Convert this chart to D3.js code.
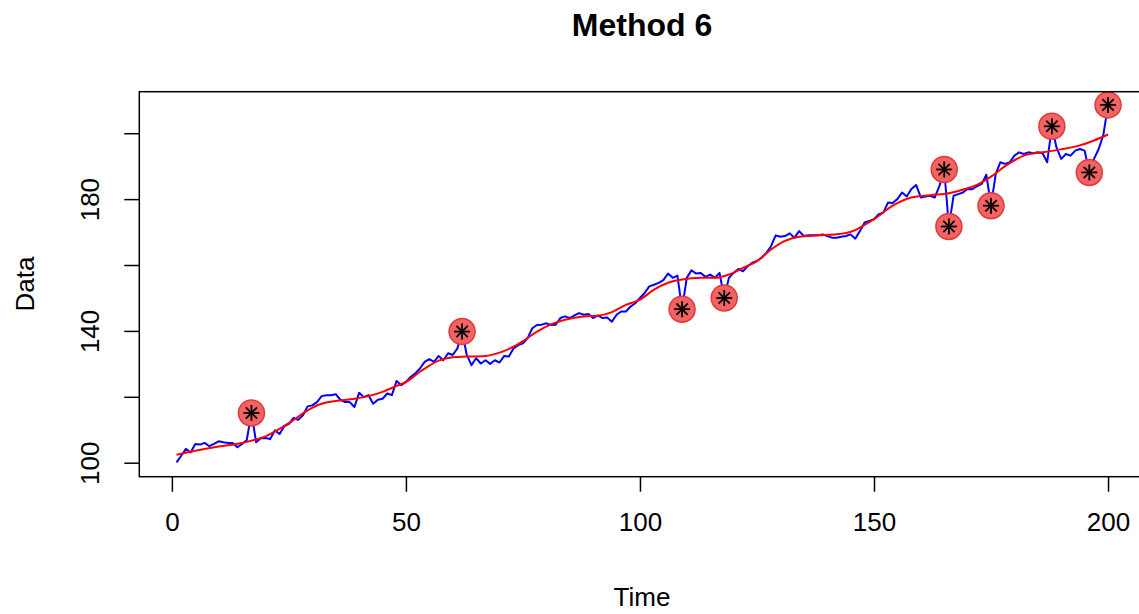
<!DOCTYPE html>
<html>
<head>
<meta charset="utf-8">
<script src="https://cdn.jsdelivr.net/npm/d3@7"></script>
<style>
  body { margin: 0; background: #fff; }
  svg { display: block; }
  text { font-family: "Liberation Sans", Arial, sans-serif; fill: #000; }
</style>
</head>
<body>
<svg id="chart" width="1139" height="614"></svg>
<script>
// ---- data ----
const dataValues = [
  100.1,102.1,104.2,103.1,105.7,105.5,106.0,105.0,105.7,106.5,
  106.2,106.0,106.0,104.7,105.7,106.9,115.1,106.2,107.4,107.5,
  107.2,109.8,108.7,111.0,111.8,113.6,113.0,114.4,117.1,117.4,
  118.4,120.2,120.5,120.5,120.8,119.1,118.4,118.4,116.9,121.2,
  119.9,120.5,117.9,119.1,119.4,121.0,120.5,124.8,123.5,124.5,
  126.0,127.1,128.6,130.6,131.4,130.6,132.4,131.1,133.2,132.7,
  134.7,139.8,132.7,129.6,131.7,130.1,131.1,130.0,131.1,130.4,
  132.4,132.2,134.7,135.7,136.2,137.8,140.8,141.8,141.9,142.3,
  141.8,141.9,143.9,144.4,143.9,144.7,145.4,144.9,145.1,143.9,
  144.7,143.9,144.1,142.8,144.9,145.9,145.9,147.4,148.4,150.0,
  151.5,153.5,154.0,154.6,155.4,157.4,156.1,156.8,146.6,156.1,
  158.4,157.4,157.6,156.4,157.1,156.1,157.6,150.0,156.1,157.6,
  158.8,158.1,159.6,160.7,161.2,162.2,163.7,165.7,169.0,168.6,
  168.8,169.6,168.3,170.3,168.8,169.0,169.0,169.0,169.3,168.8,
  168.3,168.3,168.6,168.8,169.3,168.0,170.3,172.9,173.4,173.9,
  175.4,175.9,179.0,178.8,180.0,182.0,180.8,183.1,184.3,180.5,
  180.8,181.0,180.5,184.1,189.0,171.7,181.0,181.5,182.0,183.1,
  183.0,183.9,184.6,187.4,178.0,187.6,191.2,190.7,191.2,193.2,
  194.2,193.7,194.2,193.9,194.2,193.9,191.2,202.1,195.6,192.2,
  193.7,193.2,194.7,195.2,194.7,188.1,192.2,195.2,199.5,208.6
];
const outlierTimes = [17, 62, 109, 118, 165, 166, 175, 188, 196, 200];

const trendTimes  = [1,5,10,15,20,25,29,32,35,39,42,45,48,50,53,57,60,63,67,70,73,75,78,81,84,88,91,94,97,100,103,106,109,113,116,119,122,125,128,131,134,138,142,146,148,150,154,158,162,166,170,172,175,178,182,186,190,194,197,200];
const trendValues = [102.4,103.6,104.9,106.0,108.0,112.0,115.9,117.9,118.7,119.4,120.2,121.5,123.3,124.5,127.6,131.0,132.0,132.2,132.4,133.4,135.2,136.9,139.8,142.0,143.4,144.4,144.6,145.7,147.9,149.5,152.5,154.6,155.6,156.1,156.1,157.1,159.1,161.2,164.7,167.3,168.6,169.0,169.3,170.6,172.2,173.9,178.0,180.5,181.2,181.8,183.3,184.3,186.8,190.0,193.2,194.2,195.1,196.3,197.8,199.6];

const xTicks = [0, 50, 100, 150, 200];
const yTicks = [100, 120, 140, 160, 180, 200];
const yTickLabels = [100, 140, 180];
const xLimits = [-6.96, 207.96];
const yLimits = [95.75, 212.6];

// ---- layout ----
const svg = d3.select("#chart");
const plot = { left: 139.3, right: 1145.3, top: 91.7, bottom: 476.7 };
const x = d3.scaleLinear().domain(xLimits).range([plot.left, plot.right]);
const y = d3.scaleLinear().domain(yLimits).range([plot.bottom, plot.top]);

const series = dataValues.map((v, i) => ({ t: i + 1, v }));
const trend = trendTimes.map((t, i) => ({ t, v: trendValues[i] }));
const outliers = outlierTimes.map(t => ({ t, v: dataValues[t - 1] }));

// blue data line
svg.append("path")
  .datum(series)
  .attr("fill", "none")
  .attr("stroke", "#0000ff")
  .attr("stroke-width", 2)
  .attr("stroke-linejoin", "round")
  .attr("d", d3.line().x(d => x(d.t)).y(d => y(d.v)));

// red fitted curve
svg.append("path")
  .datum(trend)
  .attr("fill", "none")
  .attr("stroke", "#ff0000")
  .attr("stroke-width", 2)
  .attr("d", d3.line().x(d => x(d.t)).y(d => y(d.v)).curve(d3.curveMonotoneX));

// outlier circles
svg.append("g").selectAll("circle")
  .data(outliers).join("circle")
  .attr("cx", d => x(d.t)).attr("cy", d => y(d.v))
  .attr("r", 13)
  .attr("fill", "#f26464")
  .attr("stroke", "#e03a3a")
  .attr("stroke-width", 1.5);

// asterisks (pch 8)
const star = svg.append("g").attr("stroke", "#000").attr("stroke-width", 1.8);
outliers.forEach(d => {
  const cx = x(d.t), cy = y(d.v), r = 8;
  [0, 45, 90, 135].forEach(a => {
    const rad = a * Math.PI / 180;
    star.append("line")
      .attr("x1", cx - r * Math.cos(rad)).attr("y1", cy - r * Math.sin(rad))
      .attr("x2", cx + r * Math.cos(rad)).attr("y2", cy + r * Math.sin(rad));
  });
});

// frame
svg.append("rect")
  .attr("x", plot.left).attr("y", plot.top)
  .attr("width", plot.right - plot.left).attr("height", plot.bottom - plot.top)
  .attr("fill", "none").attr("stroke", "#000").attr("stroke-width", 1.5);

// x axis
const xAxis = d3.axisBottom(x).tickValues(xTicks).tickSize(15).tickPadding(21);
const gx = svg.append("g").attr("transform", `translate(0,${plot.bottom})`).call(xAxis);
gx.select(".domain").remove();
gx.selectAll("line").attr("stroke", "#000").attr("stroke-width", 1.5);
gx.selectAll("text").attr("font-size", 26).attr("font-family", "Liberation Sans, Arial, sans-serif").attr("fill", "#000");

// y axis
const yAxis = d3.axisLeft(y).tickValues(yTicks).tickSize(15)
  .tickFormat(d => yTickLabels.includes(d) ? d : "");
const gy = svg.append("g").attr("transform", `translate(${plot.left},0)`).call(yAxis);
gy.select(".domain").remove();
gy.selectAll("line").attr("stroke", "#000").attr("stroke-width", 1.5);
gy.selectAll("text")
  .attr("font-size", 26).attr("font-family", "Liberation Sans, Arial, sans-serif").attr("fill", "#000")
  .attr("x", null).attr("dy", null)
  .attr("text-anchor", "middle")
  .attr("transform", "translate(-40,0) rotate(-90)");

// titles
svg.append("text").attr("x", 642).attr("y", 36)
  .attr("text-anchor", "middle").attr("font-size", 32).attr("font-weight", "bold")
  .text("Method 6");
svg.append("text").attr("x", 642).attr("y", 606)
  .attr("text-anchor", "middle").attr("font-size", 26).text("Time");
svg.append("text").attr("transform", "translate(34,284) rotate(-90)")
  .attr("text-anchor", "middle").attr("font-size", 26).text("Data");
</script>
</body>
</html>
